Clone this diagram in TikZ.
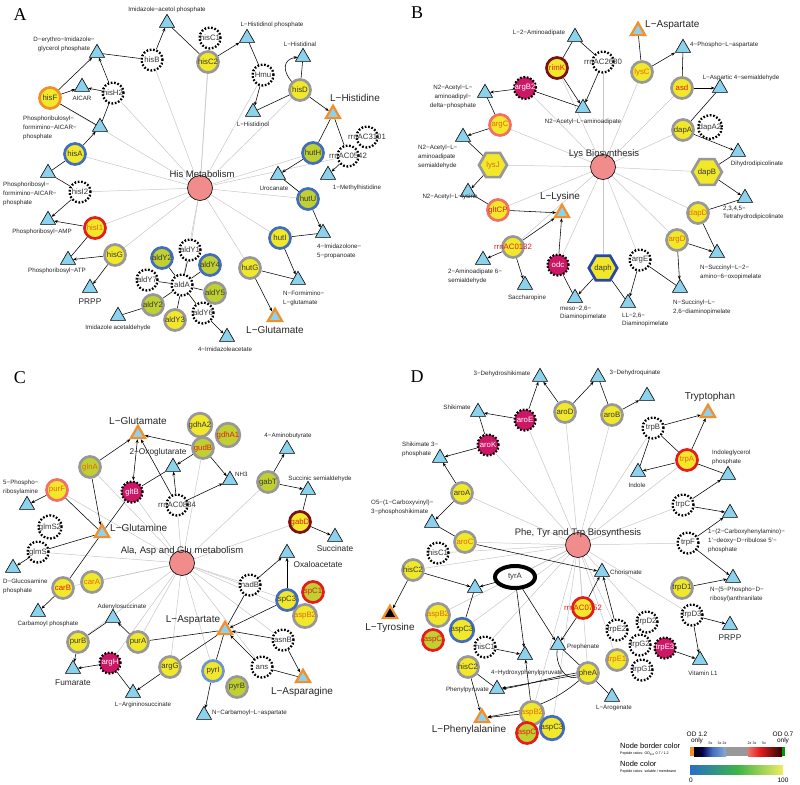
\documentclass[tikz,border=0pt]{standalone}
\usepackage{fontspec}
\setmainfont{Liberation Sans}
\newfontfamily\serfam{Liberation Serif}
\usetikzlibrary{shapes.geometric,arrows.meta,backgrounds}
\definecolor{ylw}{RGB}{242,232,42}
\definecolor{ygr}{RGB}{192,208,48}
\definecolor{mag}{RGB}{204,22,102}
\definecolor{bgr}{RGB}{152,152,152}
\definecolor{bbl}{RGB}{66,108,190}
\definecolor{blb}{RGB}{110,150,205}
\definecolor{bdb}{RGB}{40,70,170}
\definecolor{brd}{RGB}{228,28,28}
\definecolor{bor}{RGB}{244,142,40}
\definecolor{bsa}{RGB}{240,112,104}
\definecolor{bdk}{RGB}{122,16,16}
\definecolor{tri}{RGB}{140,210,236}
\definecolor{hubc}{RGB}{240,140,140}
\definecolor{txt}{RGB}{55,55,55}
\definecolor{tor}{RGB}{225,105,20}
\definecolor{trd}{RGB}{222,30,30}
\definecolor{spoke}{RGB}{200,200,200}
\newcommand\gfnt{\fontsize{7.8}{8}\selectfont}
\newcommand\lfnt{\fontsize{6.2}{8.8}\selectfont}
\newcommand\bfnt{\fontsize{10}{11}\selectfont}
\newcommand\mfnt{\fontsize{8.3}{9}\selectfont}
\newcommand\hfnt{\fontsize{9.5}{10}\selectfont}
\newcommand\tfnt{\fontsize{3.6}{4}\selectfont}
\newcommand\kfnt{\fontsize{6.5}{6.5}\selectfont}
\newcommand\zw[1]{\makebox[0pt]{#1}}
\tikzset{
 gene/.style={circle, fill=ylw, draw=bgr, line width=2.7pt, minimum size=21pt, inner sep=0pt, font=\gfnt, text=txt},
 G/.style={fill=ygr},
 mg/.style={fill=mag, text=white},
 bb/.style={draw=bbl}, br/.style={draw=brd}, bo/.style={draw=bor},
 bs/.style={draw=bsa}, bd/.style={draw=bdk}, bl/.style={draw=blb},
 tr/.style={text=trd}, to/.style={text=tor},
 unk/.style={gene, fill=white, draw=black, dash pattern=on 1.7pt off 1.7pt, line width=2.3pt},
 hexa/.style={gene, regular polygon, regular polygon sides=6, minimum size=28pt},
 met/.style={regular polygon, regular polygon sides=3, fill=tri, draw=black, line width=0.6pt, minimum size=17.5pt, inner sep=0pt},
 key/.style={met, draw=bor, line width=2.2pt, minimum size=16.5pt},
 hub/.style={circle, fill=hubc, draw=black, line width=0.6pt, minimum size=25pt},
 hubl/.style={font=\hfnt, inner sep=0pt, text=black!85},
 lb/.style={font=\lfnt, inner sep=0pt, align=center, text=black!85},
 lbw/.style={lb, align=left, anchor=west},
 bigl/.style={font=\bfnt, inner sep=0pt, text=black!85},
 midl/.style={font=\mfnt, inner sep=0pt, text=black!85},
 pan/.style={font=\serfam\fontsize{18}{18}\selectfont, inner sep=0pt},
 arr/.style={draw=black, line width=0.55pt, -{Stealth[length=3.8pt,width=3pt]}},
 ln/.style={draw=black, line width=0.55pt},
 spk/.style={draw=spoke, line width=0.5pt},
 tiny/.style={font=\tfnt, inner sep=0pt},
 legt/.style={font=\kfnt, inner sep=0pt, align=center}
}
\begin{document}
\begin{tikzpicture}[x=1pt,y=-1pt]
\useasboundingbox (0,0) rectangle (800,784);
% ================= Panel A =================
\node[pan] (pA) at (20,15) {A};
\node[hub] (Ac) at (200,188) {};
\node[hubl] (Acl) at (202,174) {His Metabolism};
\node[unk] (AhisC1) at (210,38) {hisC1};
\node[gene] (AhisC2) at (208,62) {hisC2};
\node[unk] (AhisB) at (152,60) {hisB};
\node[unk] (AHmu) at (263,75) {Hmu};
\node[gene] (AhisD) at (300,90) {hisD};
\node[unk] (AhisH2) at (113,93) {hisH2};
\node[gene,bo] (AhisF) at (50,98) {hisF};
\node[unk] (Arrn31) at (367,137) {\zw{rrnAC3101}};
\node[unk] (Arrn05) at (348,156) {\zw{rrnAC0542}};
\node[gene,G,bb] (AhutH) at (313,153) {hutH};
\node[gene,bb] (AhisA) at (75,154) {hisA};
\node[unk] (AhisI2) at (80,192) {hisI2};
\node[gene,G,bb] (AhutU) at (308,199) {hutU};
\node[gene,br,to] (AhisI1) at (95,228) {hisI1};
\node[gene,bb] (AhutI) at (280,238) {hutI};
\node[gene] (AhisG) at (115,255) {hisG};
\node[unk] (AaldY1) at (190,250) {aldY1};
\node[gene,G,bb] (AaldY2a) at (162,258) {aldY2};
\node[gene,G,bb] (AaldY4) at (210,265) {aldY4};
\node[gene] (AhutG) at (250,268) {hutG};
\node[unk] (AaldY7) at (147,280) {aldY7};
\node[unk] (AaldA) at (182,285) {aldA};
\node[gene,G] (AaldY5) at (215,293) {aldY5};
\node[gene,G] (AaldY2b) at (153,305) {aldY2};
\node[unk] (AaldY6) at (203,313) {aldY6};
\node[gene] (AaldY3) at (175,320) {aldY3};
% metabolites A
\node[met] (AmIAP) at (167,23) {};
\node[lb] (AmIAPl) at (167,10) {Imidazole−acetol phosphate};
\node[met] (AmLHP) at (247,38) {};
\node[lb] (AmLHPl) at (272,25) {L−Histidinol phosphate};
\node[met] (AmDEI) at (97,53) {};
\node[lb] (AmDEIl) at (64,44) {D−erythro−Imidazole−\\glycerol phosphate};
\node[met] (AmLHal) at (303,57) {};
\node[lb] (AmLHall) at (300,44) {L−Histidinal};
\node[met] (AmAIC) at (82,87) {};
\node[lb] (AmAICl) at (82,98) {AICAR};
\node[met] (AmLHol) at (253,112) {};
\node[lb] (AmLHoll) at (253,124) {L−Histidinol};
\node[met] (AmPFA) at (100,127) {};
\node[lbw] (AmPFAl) at (23,128) {Phosphoribulosyl−\\formimino−AICAR−\\phosphate};
\node[key] (AmLHis) at (333,114) {};
\node[bigl] (AmLHisl) at (355,98) {L−Histidine};
\node[met] (AmUro) at (278,175) {};
\node[lb] (AmUrol) at (274,188) {Urocanate};
\node[met] (AmMH) at (328,175) {};
\node[lb] (AmMHl) at (357,188) {1−Methylhistidine};
\node[met] (AmPFA2) at (48,173) {};
\node[lbw] (AmPFA2l) at (3,194) {Phosphoribosyl−\\formimino−AICAR−\\phosphate};
\node[met] (AmPAMP) at (48,220) {};
\node[lb] (AmPAMPl) at (42,232) {Phosphoribosyl−AMP};
\node[met] (AmIZP) at (323,233) {};
\node[lbw] (AmIZPl) at (317,251) {4−Imidazolone−\\5−propanoate};
\node[met] (AmPATP) at (68,260) {};
\node[lb] (AmPATPl) at (57,271) {Phosphoribosyl−ATP};
\node[met] (AmNFG) at (298,280) {};
\node[lbw] (AmNFGl) at (283,298) {N−Formimino−\\L−glutamate};
\node[met] (AmPRPP) at (90,288) {};
\node[midl] (AmPRPPl) at (90,302) {PRPP};
\node[met] (AmIA) at (118,316) {};
\node[lb] (AmIAl) at (118,328) {Imidazole acetaldehyde};
\node[key] (AmLGlu) at (275,317) {};
\node[bigl] (AmLGlul) at (275,330) {L−Glutamate};
\node[met] (AmIAc) at (227,337) {};
\node[lb] (AmIAcl) at (225,349) {4−Imidazoleacetate};
% ================= Panel B =================
\node[pan] (pB) at (417,13) {B};
\node[hub] (Bc) at (603,167) {};
\node[hubl] (Bcl) at (604,154) {Lys Biosynthesis};
\node[gene,bd,tr] (BrimK) at (557,68) {rimK};
\node[unk] (Brrn26) at (603,62) {\zw{rrnAC2680}};
\node[gene,to] (BlysC) at (642,72) {lysC};
\node[unk,mg] (BargB2) at (525,88) {argB2};
\node[gene,tr] (Basd) at (682,88) {asd};
\node[gene,bs,to] (BargC) at (500,125) {argC};
\node[unk] (BdapA2) at (710,127) {dapA2};
\node[gene] (BdapA) at (683,130) {dapA};
\node[hexa,to] (BlysJ) at (493,165) {lysJ};
\node[hexa] (BdapB) at (707,172) {dapB};
\node[gene,bs,tr] (BgltCP) at (498,210) {gltCP};
\node[gene,to] (BdapD) at (698,213) {dapD};
\node[gene,to] (BargD) at (677,240) {argD};
\node[gene,tr] (Brrn01) at (513,247) {\zw{rrnAC0132}};
\node[unk,mg] (Bodc) at (558,265) {odc};
\node[hexa,draw=bdb] (Bdaph) at (603,268) {daph};
\node[unk] (BargE) at (640,260) {argE};
% metabolites B
\node[key] (BmLAsp) at (638,31) {};
\node[bigl,anchor=west] (BmLAspl) at (645,25) {L−Aspartate};
\node[met] (BmL2A) at (575,37) {};
\node[lb] (BmL2Al) at (539,33) {L−2−Aminoadipate};
\node[met] (Bm4PA) at (683,48) {};
\node[lbw] (Bm4PAl) at (690,45) {4−Phospho−L−aspartate};
\node[met] (BmNAP) at (485,93) {};
\node[lb] (BmNAPl) at (453,97) {N2−Acetyl−L−\\aminoadipyl−\\delta−phosphate};
\node[met] (BmLAS) at (720,88) {};
\node[lb] (BmLASl) at (741,78) {L−Aspartic 4−semialdehyde};
\node[met] (BmNAA) at (583,108) {};
\node[lb] (BmNAAl) at (583,122) {N2−Acetyl−L−aminoadipate};
\node[met] (BmNAS) at (463,137) {};
\node[lbw] (BmNASl) at (418,157) {N2−Acetyl−L−\\aminoadipate\\semialdehyde};
\node[met] (BmDHD) at (738,152) {};
\node[lb] (BmDHDl) at (757,164) {Dihydrodipicolinate};
\node[met] (BmNAL) at (468,192) {};
\node[lb] (BmNALl) at (450,197) {N2−Acetyl−L−lysine};
\node[met] (BmTHD) at (745,198) {};
\node[lbw] (BmTHDl) at (723,213) {2,3,4,5−\\Tetrahydrodipicolinate};
\node[key] (BmLLys) at (562,213) {};
\node[bigl] (BmLLysl) at (560,197) {L−Lysine};
\node[met] (BmAAS) at (483,260) {};
\node[lbw] (BmAASl) at (448,276) {2−Aminoadipate 6−\\semialdehyde};
\node[met] (BmNSO) at (717,253) {};
\node[lbw] (BmNSOl) at (700,272) {N−Succinyl−L−2−\\amino−6−oxopimelate};
\node[met] (BmSac) at (525,285) {};
\node[lb] (BmSacl) at (527,298) {Saccharopine};
\node[met] (BmMDA) at (575,298) {};
\node[lbw] (BmMDAl) at (560,313) {meso−2,6−\\Diaminopimelate};
\node[met] (BmLLD) at (628,303) {};
\node[lbw] (BmLLDl) at (622,320) {LL−2,6−\\Diaminopimelate};
\node[met] (BmNSD) at (680,288) {};
\node[lbw] (BmNSDl) at (673,307) {N−Succinyl−L−\\2,6−diaminopimelate};
% ================= Panel C =================
\node[pan] (pC) at (20,378) {C};
\node[hub] (Cc) at (182,563) {};
\node[hubl] (Ccl) at (182,551) {Ala, Asp and Glu metabolism};
\node[gene] (CgdhA2) at (200,425) {gdhA2};
\node[gene,G,tr] (CgdhA1) at (228,435) {gdhA1};
\node[gene,G,tr] (CgudB) at (203,448) {gudB};
\node[gene,G,to] (CglnA) at (90,467) {glnA};
\node[gene,G] (CgabT) at (268,482) {gabT};
\node[gene,bs,to] (CpurF) at (57,490) {purF};
\node[unk,mg] (CgltB) at (132,492) {gltB};
\node[unk] (Crrn08) at (177,505) {\zw{rrnAC0884}};
\node[gene,bd,tr] (CgabD) at (300,522) {gabD};
\node[unk] (CglmS2) at (50,527) {glmS2};
\node[unk] (CglmS) at (38,552) {glmS};
\node[gene,to] (CcarA) at (92,582) {carA};
\node[gene,tr] (CcarB) at (63,588) {carB};
\node[unk] (CnadB) at (250,585) {nadB};
\node[gene,G,br,tr] (CspC1) at (313,592) {spC1};
\node[gene,to] (CaspB2) at (305,616) {aspB2};
\node[gene,bb] (CspC3) at (287,600) {spC3};
\node[gene] (CpurB) at (78,642) {purB};
\node[gene] (CpurA) at (138,642) {purA};
\node[unk] (CasnB) at (283,640) {asnB};
\node[unk,mg] (CargH) at (110,663) {argH};
\node[gene] (CargG) at (170,667) {argG};
\node[gene,bl] (CpyrI) at (213,671) {pyrI};
\node[unk] (Cans) at (262,667) {ans};
\node[gene,G] (CpyrB) at (237,687) {pyrB};
% metabolites C
\node[key] (CmLGlu) at (138,434) {};
\node[bigl] (CmLGlul) at (138,421) {L−Glutamate};
\node[met] (CmOxo) at (173,467) {};
\node[midl] (CmOxol) at (158,452) {2−Oxoglutarate};
\node[met] (Cm4AB) at (287,449) {};
\node[lb] (Cm4ABl) at (288,436) {4−Aminobutyrate};
\node[met] (CmNH3) at (230,480) {};
\node[lbw] (CmNH3l) at (235,474) {NH3};
\node[met] (CmSS) at (308,490) {};
\node[lb] (CmSSl) at (320,479) {Succinic semialdehyde};
\node[met] (Cm5PR) at (27,505) {};
\node[lbw] (Cm5PRl) at (3,487) {5−Phospho−\\ribosylamine};
\node[key] (CmLGln) at (102,533) {};
\node[bigl,anchor=west] (CmLGlnl) at (110,528) {L−Glutamine};
\node[met] (CmSuc) at (335,537) {};
\node[midl] (CmSucl) at (335,549) {Succinate};
\node[met] (CmOxa) at (287,553) {};
\node[midl] (CmOxal) at (318,565) {Oxaloacetate};
\node[met] (CmDGP) at (13,568) {};
\node[lbw] (CmDGPl) at (3,586) {D−Glucosamine\\phosphate};
\node[met] (CmAdS) at (113,618) {};
\node[lb] (CmAdSl) at (122,607) {Adenylosuccinate};
\node[met] (CmCP) at (38,612) {};
\node[lb] (CmCPl) at (48,624) {Carbamoyl phosphate};
\node[key] (CmLAsp) at (225,630) {};
\node[bigl] (CmLAspl) at (193,620) {L−Aspartate};
\node[met] (CmFum) at (73,669) {};
\node[midl] (CmFuml) at (73,683) {Fumarate};
\node[key] (CmLAsn) at (303,678) {};
\node[bigl] (CmLAsnl) at (302,692) {L−Asparagine};
\node[met] (CmLAS) at (133,693) {};
\node[lb] (CmLASl) at (143,705) {L−Argininosuccinate};
\node[met] (CmNCA) at (204,715) {};
\node[lbw] (CmNCAl) at (212,713) {N−Carbamoyl−L−aspartate};
% ================= Panel D =================
\node[pan] (pD) at (417,377) {D};
\node[hub] (Dc) at (578,545) {};
\node[hubl] (Dcl) at (578,533) {Phe, Tyr and Trp Biosynthesis};
\node[unk,mg] (DaroE) at (525,420) {aroE};
\node[gene] (DaroD) at (565,412) {aroD};
\node[gene] (DaroB) at (612,415) {aroB};
\node[unk] (DtrpB) at (653,428) {trpB};
\node[unk,mg] (DaroK) at (488,445) {aroK};
\node[gene,br,to] (DtrpA) at (687,460) {trpA};
\node[gene] (DaroA) at (462,493) {aroA};
\node[unk] (DtrpC) at (683,505) {trpC};
\node[gene,to] (DaroC) at (465,542) {aroC};
\node[unk] (DtrpF) at (688,543) {trpF};
\node[unk] (DhisC1) at (438,553) {hisC1};
\node[gene] (DhisC2) at (413,570) {hisC2};
\node[ellipse, draw=black, fill=white, line width=4pt, minimum width=40pt, minimum height=22pt, inner sep=0pt, font=\gfnt, text=txt] (DtyrA) at (515,577) {tyrA};
\node[gene] (DtrpD1) at (682,588) {trpD1};
\node[unk] (DtrpD3) at (692,615) {trpD3};
\node[gene,to] (DaspB2) at (438,615) {aspB2};
\node[gene,G,br,tr] (DaspC) at (433,640) {aspC};
\node[gene,bb] (DaspC3) at (462,630) {aspC3};
\node[gene,br,tr] (Drrn07) at (583,608) {\zw{rrnAC0752}};
\node[unk] (DtrpD2) at (647,622) {trpD2};
\node[unk] (DtrpE2) at (617,630) {trpE2};
\node[unk] (DtrpG2) at (640,645) {trpG2};
\node[unk,mg] (DtrpE3) at (665,648) {trpE3};
\node[unk] (DtrpG1) at (642,670) {trpG1};
\node[gene,to] (DtrpE1) at (617,660) {trpE1};
\node[unk] (DhisC1b) at (485,647) {hisC1};
\node[gene] (DhisC2b) at (468,667) {hisC2};
\node[gene] (DpheA) at (588,673) {pheA};
\node[gene,to] (DaspB2b) at (532,713) {aspB2};
\node[gene,G,br,tr] (DaspCb) at (527,733) {aspC};
\node[gene,bb] (DaspC3b) at (552,728) {aspC3};
% metabolites D
\node[met] (DmDHS) at (540,377) {};
\node[lb] (DmDHSl) at (502,374) {3−Dehydroshikimate};
\node[met] (DmDHQ) at (598,377) {};
\node[lb] (DmDHQl) at (635,373) {3−Dehydroquinate};
\node[met] (DmX) at (647,396) {};
\node[key] (DmTrp) at (708,413) {};
\node[bigl] (DmTrpl) at (710,397) {Tryptophan};
\node[met] (DmShk) at (478,412) {};
\node[lb] (DmShkl) at (457,407) {Shikimate};
\node[met] (DmS3P) at (440,458) {};
\node[lbw] (DmS3Pl) at (402,449) {Shikimate 3−\\phosphate};
\node[met] (DmIGP) at (728,475) {};
\node[lbw] (DmIGPl) at (712,457) {Indoleglycerol\\phosphate};
\node[met] (DmInd) at (638,472) {};
\node[lb] (DmIndl) at (637,485) {Indole};
\node[met] (DmO5) at (432,523) {};
\node[lbw] (DmO5l) at (371,507) {O5−(1−Carboxyvinyl)−\\3−phosphoshikimate};
\node[met] (DmCPR) at (730,513) {};
\node[lbw] (DmCPRl) at (708,541) {1−(2−Carboxyhenylamino)−\\1'−deoxy−D−ribulose 5'−\\phosphate};
\node[met] (DmCho) at (602,572) {};
\node[lbw] (DmChol) at (610,572) {Chorismate};
\node[met] (DmNPR) at (733,578) {};
\node[lbw] (DmNPRl) at (710,594) {N−(5−Phospho−D−\\ribosyl)anthranilate};
\node[met] (DmPRPP) at (730,625) {};
\node[midl] (DmPRPPl) at (730,638) {PRPP};
\node[key, fill=black] (DmLTyr) at (390,614) {};
\node[bigl] (DmLTyrl) at (390,628) {L−Tyrosine};
\node[met] (DmHPPa) at (475,588) {};
\node[met] (DmPre) at (558,645) {};
\node[lbw] (DmPrel) at (567,647) {Prephenate};
\node[met] (DmHPP) at (525,655) {};
\node[lb] (DmHPPl) at (527,673) {4−Hydroxyphenylpyruvate};
\node[met] (DmVL1) at (700,660) {};
\node[lb] (DmVL1l) at (703,673) {Vitamin L1};
\node[met] (DmPP) at (497,689) {};
\node[lb,anchor=east] (DmPPl) at (489,690) {Phenylpyruvate};
\node[met] (DmLAro) at (612,697) {};
\node[lb] (DmLArol) at (614,708) {L−Arogenate};
\node[key] (DmLPhe) at (482,718) {};
\node[bigl] (DmLPhel) at (469,730) {L−Phenylalanine};
% ================= Legend =================
\node[legt] (lgOD1) at (697,738) {OD 1.2\\only};
\node[legt] (lgOD2) at (783,738) {OD 0.7\\only};
\node[tiny] (lgt1) at (710,743) {.5x};
\node[tiny] (lgt2) at (722,743) {3x 2x};
\node[tiny] (lgt3) at (752,743) {2x 3x};
\node[tiny] (lgt4) at (764,743) {5x};
\node[font=\fontsize{7.5}{8}\selectfont, inner sep=0pt, anchor=west] (lgNB) at (620,746) {Node border color};
\node[tiny, anchor=west] (lgNBs) at (620,754) {Peptide ratios: OD\textsubscript{600} 0.7 / 1.2};
\node[font=\fontsize{7.5}{8}\selectfont, inner sep=0pt, anchor=west] (lgNC) at (620,764) {Node color};
\node[tiny, anchor=west] (lgNCs) at (620,772) {Peptide ratios: soluble / membrane};
\node[legt] (lg0) at (691,780) {0};
\node[legt] (lg100) at (783,780) {100};
\begin{scope}[on background layer]
\fill[white] (0,0) rectangle (800,784);
% legend bars
\fill[bor] (690,747) rectangle (694,756);
\shade[left color=black, right color=black!70!blue] (694,747) rectangle (702,756);
\shade[left color=black!70!blue, right color=bbl] (702,747) rectangle (712,756);
\shade[left color=bbl, right color=blb!80] (712,747) rectangle (726,756);
\fill[bgr] (726,747) rectangle (748,756);
\shade[left color=bsa, right color=brd] (748,747) rectangle (760,756);
\shade[left color=brd, right color=bdk] (760,747) rectangle (772,756);
\shade[left color=bdk, right color=black!80!red] (772,747) rectangle (782,756);
\fill[green!60!black] (782,747) rectangle (785,756);
\shade[left color={rgb,255:red,40;green,110;blue,200}, right color={rgb,255:red,60;green,180;blue,70}] (690,765) rectangle (737,774);
\shade[left color={rgb,255:red,60;green,180;blue,70}, right color={rgb,255:red,240;green,236;blue,100}] (737,765) rectangle (783,774);
% spokes A
\foreach \n in {AhisC1,AhisB,AhisC2,AHmu,AhisD,AhisF,AhisH2,AhisA,AhisI2,AhisI1,AhisG,AaldY1,AaldA,AhutG,AhutI,AhutU,AhutH,Arrn05}
  \draw[spk] (Ac) -- (\n);
% spokes B
\foreach \n in {Brrn26,BrimK,BargB2,BargC,BlysJ,BgltCP,Brrn01,Bodc,Bdaph,BargE,BargD,BdapD,BdapB,BdapA,Basd,BlysC}
  \draw[spk] (Bc) -- (\n);
% spokes C
\foreach \n in {CglnA,CgltB,Crrn08,CgudB,CgabT,CgabD,CpurF,CglmS,CcarA,CcarB,CnadB,CspC3,CaspB2,CasnB,Cans,CpyrI,CargG,CpurA,CargH,CpurB}
  \draw[spk] (Cc) -- (\n);
% spokes D
\foreach \n in {DaroE,DaroD,DaroB,DtrpB,DaroK,DaroA,DaroC,DtrpA,DtrpC,DtrpF,DtrpD3,DhisC1,DhisC2,DtyrA,DaspB2,DaspC3,DhisC1b,Drrn07,DtrpE2,DtrpD2,DpheA,DaspB2b,DaspC3b,DtrpE1}
  \draw[spk] (Dc) -- (\n);
% ---- edges A
\draw[arr] (AhisB) -- (AmIAP);
\draw[ln] (AmDEI) -- (AhisB);
\draw[ln] (AhisC2) -- (AmIAP);
\draw[arr] (AhisC2) -- (AmLHP);
\draw[ln] (AmLHP) -- (AHmu);
\draw[arr] (AHmu) -- (AmLHol);
\draw[ln] (AmLHol) -- (AhisD);
\draw[ln] (AhisD) -- (AmLHal);
\draw[arr] (AhisD.north west) to[out=130,in=190,looseness=1.5] (AmLHal.west);
\draw[arr] (AhisD) -- (AmLHis);
\draw[ln] (AmLHis) -- (AhutH);
\draw[ln] (AmLHis) -- (Arrn05);
\draw[arr] (Arrn05) -- (AmMH);
\draw[arr] (AhutH) -- (AmUro);
\draw[ln] (AmUro) -- (AhutU);
\draw[arr] (AhutU) -- (AmIZP);
\draw[ln] (AhutI) -- (AmIZP);
\draw[arr] (AhutI) -- (AmNFG);
\draw[ln] (AhutG) -- (AmNFG);
\draw[arr] (AhutG) -- (AmLGlu);
\draw[arr] (AhisF) -- (AmDEI);
\draw[arr] (AhisF) -- (AmAIC);
\draw[arr] (AhisH2) -- (AmDEI);
\draw[arr] (AhisH2) -- (AmAIC);
\draw[ln] (AhisF) -- (AmPFA);
\draw[ln] (AhisH2) -- (AmPFA);
\draw[arr] (AhisA) -- (AmPFA);
\draw[ln] (AhisA) -- (AmPFA2);
\draw[ln] (AmPFA2) -- (AhisI2);
\draw[arr] (AhisI2) -- (AmPAMP);
\draw[arr] (AhisI1) -- (AmPAMP);
\draw[ln] (AhisI1) -- (AmPATP);
\draw[arr] (AhisG) -- (AmPATP);
\draw[arr] (AhisG) -- (AmPRPP);
\draw[ln] (AaldY2b) -- (AmIA);
\draw[arr] (AaldY6) -- (AmIAc);
\foreach \n in {AaldY1,AaldY7,AaldY5,AaldY2b,AaldY3,AaldY6,AaldY4,AaldY2a}
  \draw[ln] (AaldA) -- (\n);
% ---- edges B
\draw[ln] (BmL2A) -- (BrimK);
\draw[arr] (BrimK) -- (BmNAA);
\draw[ln] (BmL2A) -- (Brrn26);
\draw[arr] (Brrn26) -- (BmNAA);
\draw[ln] (BargB2) -- (BmNAA);
\draw[arr] (BargB2) -- (BmNAP);
\draw[ln] (BmNAP) -- (BargC);
\draw[arr] (BargC) -- (BmNAS);
\draw[ln] (BmNAS) -- (BlysJ);
\draw[arr] (BlysJ) -- (BmNAL);
\draw[ln] (BmNAL) -- (BgltCP);
\draw[arr] (BgltCP) -- (BmLLys);
\draw[arr] (Brrn01) -- (BmLLys);
\draw[arr] (Brrn01) -- (BmAAS);
\draw[arr] (Brrn01) -- (BmSac);
\draw[arr] (Bodc) -- (BmLLys);
\draw[ln] (Bodc) -- (BmMDA);
\draw[arr] (Bdaph) -- (BmMDA);
\draw[ln] (Bdaph) -- (BmLLD);
\draw[arr] (BargE) -- (BmLLD);
\draw[ln] (BargE) -- (BmNSD);
\draw[arr] (BargD) -- (BmNSD);
\draw[arr] (BargD) -- (BmNSO);
\draw[ln] (BdapD) -- (BmNSO);
\draw[ln] (BdapD) -- (BmTHD);
\draw[ln] (BlysC) -- (BmLAsp);
\draw[arr] (BlysC) -- (Bm4PA);
\draw[ln] (Bm4PA) -- (Basd);
\draw[arr] (Basd) -- (BmLAS);
\draw[ln] (BmLAS) -- (BdapA);
\draw[arr] (BdapA) -- (BmDHD);
\draw[ln] (BmDHD) -- (BdapB);
\draw[arr] (BdapB) -- (BmTHD);
% ---- edges C
\draw[arr] (CglnA) -- (CmLGlu);
\draw[arr] (CglnA) -- (CmLGln);
\draw[arr] (CgudB) -- (CmLGlu);
\draw[arr] (CgudB) -- (CmOxo);
\draw[arr] (CgudB) -- (CmNH3);
\draw[draw=black, line width=0.55pt, {Stealth[length=3.8pt,width=3pt]}-{Stealth[length=3.8pt,width=3pt]}] (CgltB) -- (CmLGlu);
\draw[ln] (CgltB) -- (CmOxo);
\draw[ln] (CgltB) -- (CmLGln);
\draw[arr] (Crrn08) -- (CmLGlu);
\draw[arr] (Crrn08) -- (CmOxo);
\draw[arr] (Crrn08) -- (CmNH3);
\draw[arr] (CgabT) -- (Cm4AB);
\draw[arr] (CgabT) -- (CmSS);
\draw[ln] (CmSS) -- (CgabD);
\draw[arr] (CgabD) -- (CmSuc);
\draw[arr] (CpurF) -- (Cm5PR);
\draw[ln] (CpurF) -- (CmLGln);
\draw[ln] (CglmS) -- (CmLGln);
\draw[arr] (CglmS) -- (CmDGP);
\draw[ln] (CcarB) -- (CmLGln);
\draw[arr] (CcarB) -- (CmCP);
\draw[arr] (CnadB) -- (CmOxa);
\draw[ln] (CnadB) -- (CmLAsp);
\draw[arr] (CspC3) -- (CmLAsp);
\draw[arr] (CspC3) -- (CmOxa);
\draw[arr] (CasnB) -- (CmLAsp);
\draw[arr] (CasnB) -- (CmLAsn);
\draw[arr] (Cans) -- (CmLAsp);
\draw[ln] (Cans) -- (CmLAsn);
\draw[ln] (CpurA) -- (CmLAsp);
\draw[arr] (CpurA) -- (CmAdS);
\draw[ln] (CmAdS) -- (CpurB);
\draw[arr] (CpurB) -- (CmFum);
\draw[arr] (CargH) -- (CmFum);
\draw[ln] (CargH) -- (CmLAS);
\draw[arr] (CargG) -- (CmLAS);
\draw[ln] (CargG) -- (CmLAsp);
\draw[ln] (CpyrI) -- (CmLAsp);
\draw[arr] (CpyrI) -- (CmNCA);
% ---- edges D
\draw[arr] (DaroE) -- (DmDHS);
\draw[arr] (DaroE) -- (DmShk);
\draw[arr] (DaroD) -- (DmDHS);
\draw[arr] (DaroD) -- (DmDHQ);
\draw[ln] (DaroB) -- (DmDHQ);
\draw[arr] (DaroB) -- (DmX);
\draw[ln] (DmShk) -- (DaroK);
\draw[arr] (DaroK) -- (DmS3P);
\draw[arr] (DaroA) -- (DmS3P);
\draw[arr] (DaroA) -- (DmO5);
\draw[ln] (DmO5) -- (DaroC);
\draw[arr] (DaroC) -- (DmCho);
\draw[arr] (DtrpB) -- (DmTrp);
\draw[ln] (DtrpB) -- (DmInd);
\draw[ln] (DtrpB) -- (DtrpA);
\draw[arr] (DtrpA) -- (DmTrp);
\draw[arr] (DtrpA) -- (DmInd);
\draw[ln] (DtrpA) -- (DmIGP);
\draw[arr] (DtrpC) -- (DmIGP);
\draw[arr] (DtrpC) -- (DmCPR);
\draw[arr] (DtrpF) -- (DmCPR);
\draw[arr] (DtrpF) -- (DmNPR);
\draw[arr] (DtrpD1) -- (DmNPR);
\draw[arr] (DtrpD3) -- (DmPRPP);
\draw[arr] (DtrpD3) -- (DmVL1);
\draw[arr] (DtrpE3) -- (DmVL1);
\draw[arr] (DhisC2) -- (DmHPPa);
\draw[arr] (DtyrA) -- (DmHPPa);
\draw[ln] (DaspC3) -- (DmHPPa);
\draw[arr] (DhisC2) -- (DmLTyr);
\draw[arr] (DtyrA) -- (DmHPP);
\draw[arr] (DtyrA) -- (DmPre);
\draw[arr] (Drrn07) -- (DmCho);
\draw[arr] (Drrn07) -- (DmPre);
\draw[arr] (DtrpE2) -- (DmCho);
\draw[arr] (DhisC1b) -- (DmHPP);
\draw[arr] (DaspB2b) -- (DmHPP);
\draw[ln] (DmPre) -- (DpheA);
\draw[ln] (DmPre) to[out=-100,in=200] (DpheA);
\draw[ln] (DpheA) -- (DmLAro);
\draw[arr] (DpheA) -- (DmPP);
\draw[arr] (DpheA.west) to[out=190,in=10] (DmPP.east);
\draw[arr] (DpheA) to[out=220,in=10] (DmLPhe);
\draw[arr] (DhisC2b) -- (DmLPhe);
\draw[ln] (DhisC2b) -- (DmPP);
\draw[arr] (DaspB2b) -- (DmLPhe);
\end{scope}
\end{tikzpicture}
\end{document}
